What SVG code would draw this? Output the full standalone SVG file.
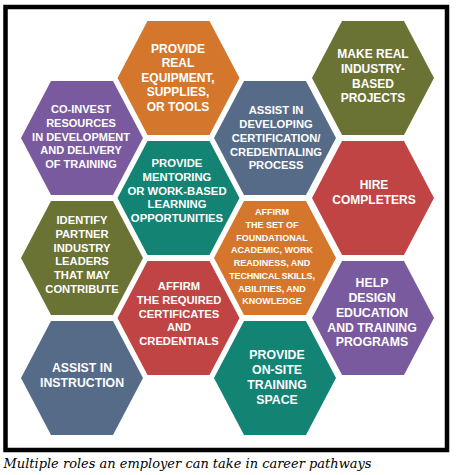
<svg xmlns="http://www.w3.org/2000/svg" width="456" height="475" viewBox="0 0 456 475">
<defs>
<style>
.hx{stroke:none}
.t{font-family:"Liberation Sans",Arial,sans-serif;font-weight:bold;fill:#ffffff;text-anchor:middle}
.or{fill:#D4772C}.pu{fill:#7A5A9E}.te{fill:#138373}.ol{fill:#6B7334}.bl{fill:#566B88}.re{fill:#C04443}
.cap{font-family:"DejaVu Serif","Liberation Serif",serif;font-style:italic;font-size:13.5px;fill:#000}
</style>
<polygon id="hex" points="-61,0 -31,-57 31,-57 61,0 31,57 -31,57"/>
</defs>
<rect x="0" y="0" width="456" height="475" fill="#ffffff"/>
<rect x="5.5" y="7" width="441.5" height="443" fill="#ffffff" stroke="#000" stroke-width="4.5"/>
<g id="connectors"></g>

<g id="n-equipment">
<use href="#hex" class="or" x="178.5" y="78"/>
<text class="t" font-size="12" x="178" y="52.5">PROVIDE</text>
<text class="t" font-size="12" x="178" y="67.1">REAL</text>
<text class="t" font-size="12" x="178" y="81.7">EQUIPMENT,</text>
<text class="t" font-size="12" x="178" y="96.3">SUPPLIES,</text>
<text class="t" font-size="12" x="178" y="110.9">OR TOOLS</text>
</g>

<g id="n-coinvest">
<use href="#hex" class="pu" x="82" y="138"/>
<text class="t" font-size="11" x="81" y="113">CO-INVEST</text>
<text class="t" font-size="11" x="81" y="126.8">RESOURCES</text>
<text class="t" font-size="11" x="81" y="140.6">IN DEVELOPMENT</text>
<text class="t" font-size="11" x="81" y="154.4">AND DELIVERY</text>
<text class="t" font-size="11" x="81" y="168.2">OF TRAINING</text>
</g>

<g id="n-mentoring">
<use href="#hex" class="te" x="178.5" y="198"/>
<text class="t" font-size="11.3" x="177" y="167">PROVIDE</text>
<text class="t" font-size="11.3" x="177" y="180.8">MENTORING</text>
<text class="t" font-size="11.3" x="177" y="194.6">OR WORK-BASED</text>
<text class="t" font-size="11.3" x="177" y="208.4">LEARNING</text>
<text class="t" font-size="11.3" x="177" y="222.2">OPPORTUNITIES</text>
</g>

<g id="n-makereal">
<use href="#hex" class="ol" x="373" y="78"/>
<text class="t" font-size="12" x="373" y="58.3">MAKE REAL</text>
<text class="t" font-size="12" x="373" y="72.8">INDUSTRY-</text>
<text class="t" font-size="12" x="373" y="87.5">BASED</text>
<text class="t" font-size="12" x="373" y="102.3">PROJECTS</text>
</g>

<g id="n-developing">
<use href="#hex" class="bl" x="275" y="138"/>
<text class="t" font-size="11.2" x="276" y="114">ASSIST IN</text>
<text class="t" font-size="11.2" x="276" y="127.9">DEVELOPING</text>
<text class="t" font-size="11.2" x="276" y="141.7">CERTIFICATION/</text>
<text class="t" font-size="11.2" x="276" y="155.6">CREDENTIALING</text>
<text class="t" font-size="11.2" x="276" y="169.4">PROCESS</text>
</g>

<g id="n-hire">
<use href="#hex" class="re" x="373" y="198"/>
<text class="t" font-size="12" x="374" y="189.3">HIRE</text>
<text class="t" font-size="12" x="374" y="204.3">COMPLETERS</text>
</g>

<g id="n-identify">
<use href="#hex" class="ol" x="82" y="258"/>
<text class="t" font-size="11.2" x="82" y="224">IDENTIFY</text>
<text class="t" font-size="11.2" x="82" y="237.8">PARTNER</text>
<text class="t" font-size="11.2" x="82" y="251.6">INDUSTRY</text>
<text class="t" font-size="11.2" x="82" y="265.4">LEADERS</text>
<text class="t" font-size="11.2" x="82" y="279.2">THAT MAY</text>
<text class="t" font-size="11.2" x="82" y="293">CONTRIBUTE</text>
</g>

<g id="n-foundational">
<use href="#hex" class="or" x="275" y="258"/>
<text class="t" font-size="9" x="272" y="215.3">AFFIRM</text>
<text class="t" font-size="9" x="272" y="228">THE SET OF</text>
<text class="t" font-size="9" x="272" y="240.7">FOUNDATIONAL</text>
<text class="t" font-size="9" x="272" y="253.4">ACADEMIC, WORK</text>
<text class="t" font-size="9" x="272" y="266.1">READINESS, AND</text>
<text class="t" font-size="9" x="272" y="278.8" letter-spacing="-0.2">TECHNICAL SKILLS,</text>
<text class="t" font-size="9" x="272" y="291.5">ABILITIES, AND</text>
<text class="t" font-size="9" x="272" y="304.2">KNOWLEDGE</text>
</g>

<g id="n-certificates">
<use href="#hex" class="re" x="178.5" y="318"/>
<text class="t" font-size="11.2" x="179" y="290">AFFIRM</text>
<text class="t" font-size="11.2" x="179" y="303.8">THE REQUIRED</text>
<text class="t" font-size="11.2" x="179" y="317.6">CERTIFICATES</text>
<text class="t" font-size="11.2" x="179" y="331.4">AND</text>
<text class="t" font-size="11.2" x="179" y="345.2">CREDENTIALS</text>
</g>

<g id="n-help">
<use href="#hex" class="pu" x="373" y="318"/>
<text class="t" font-size="12.3" x="372" y="287.4">HELP</text>
<text class="t" font-size="12.3" x="372" y="302.1">DESIGN</text>
<text class="t" font-size="12.3" x="372" y="316.8">EDUCATION</text>
<text class="t" font-size="12.3" x="372" y="331.5">AND TRAINING</text>
<text class="t" font-size="12.3" x="372" y="346.2">PROGRAMS</text>
</g>

<g id="n-instruction">
<use href="#hex" class="bl" x="82" y="378"/>
<text class="t" font-size="12.3" x="82" y="372.4">ASSIST IN</text>
<text class="t" font-size="12.3" x="82" y="387.2">INSTRUCTION</text>
</g>

<g id="n-onsite">
<use href="#hex" class="te" x="275" y="378"/>
<text class="t" font-size="12.3" x="277" y="359.4">PROVIDE</text>
<text class="t" font-size="12.3" x="277" y="374.1">ON-SITE</text>
<text class="t" font-size="12.3" x="277" y="388.8">TRAINING</text>
<text class="t" font-size="12.3" x="277" y="403.5">SPACE</text>
</g>

<text class="cap" x="3.5" y="467.5" textLength="368" lengthAdjust="spacingAndGlyphs">Multiple roles an employer can take in career pathways</text>
</svg>
